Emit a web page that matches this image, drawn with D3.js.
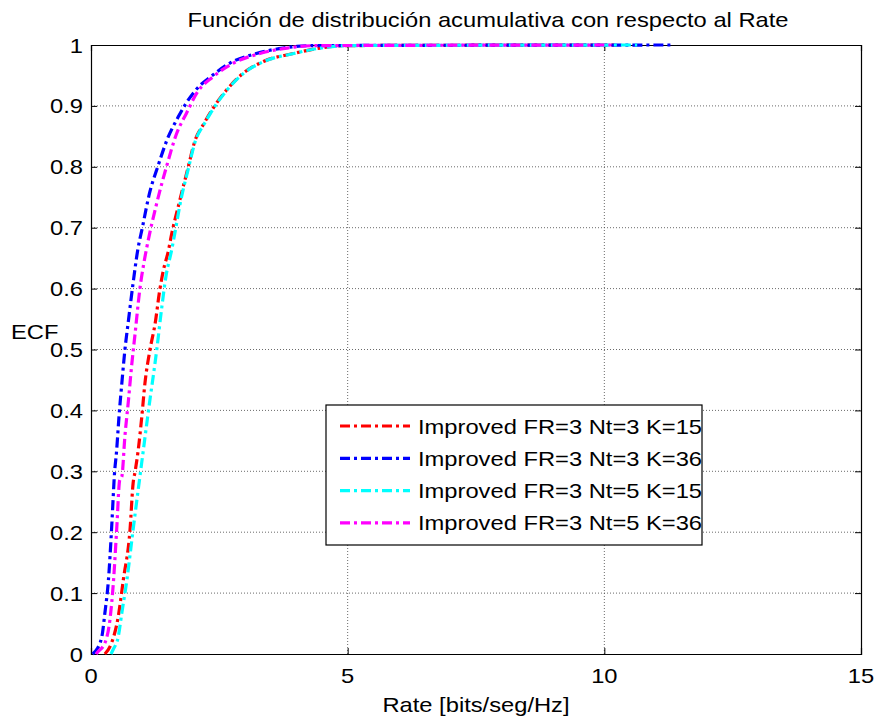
<!DOCTYPE html>
<html>
<head>
<meta charset="utf-8">
<script src="https://cdn.jsdelivr.net/npm/d3@7"></script>
<style>
  body { margin: 0; background: #fff; }
  svg { display: block; }
  text { font-family: "Liberation Sans", Arial, Helvetica, sans-serif; fill: #000; }
</style>
</head>
<body>
<svg id="chart" width="880" height="722"></svg>
<script>
// Empirical CDF samples (rate in bits/seg/Hz, cumulative probability)
const seriesNames = [
  "Improved FR=3 Nt=3 K=15",
  "Improved FR=3 Nt=3 K=36",
  "Improved FR=3 Nt=5 K=15",
  "Improved FR=3 Nt=5 K=36"
];
const seriesColors = ["#ff0000", "#0000ff", "#00ffff", "#ff00ff"];

const rateNt3K15 = [0.27, 0.40, 0.53, 0.63, 0.76, 0.82, 0.86, 0.92, 0.99, 1.05, 1.15, 1.25, 1.34, 1.41, 1.51, 1.56, 1.73, 1.88, 2.03, 2.20, 2.40, 2.64, 2.97, 3.36, 3.94, 4.46, 4.98, 10.25];
const ecfNt3K15  = [0.0, 0.018, 0.061, 0.122, 0.204, 0.28, 0.30, 0.335, 0.39, 0.444, 0.50, 0.543, 0.598, 0.63, 0.663, 0.685, 0.745, 0.795, 0.844, 0.871, 0.899, 0.926, 0.954, 0.973, 0.986, 0.995, 0.999, 1.0];

const rateNt3K36 = [0.03, 0.08, 0.21, 0.27, 0.34, 0.40, 0.44, 0.45, 0.50, 0.55, 0.60, 0.66, 0.73, 0.82, 0.91, 1.00, 1.15, 1.30, 1.48, 1.70, 1.85, 2.04, 2.38, 2.70, 3.22, 3.74, 4.33, 11.32];
const ecfNt3K36  = [0.0, 0.004, 0.028, 0.067, 0.122, 0.204, 0.27, 0.286, 0.335, 0.395, 0.444, 0.499, 0.548, 0.609, 0.663, 0.70, 0.76, 0.80, 0.844, 0.882, 0.904, 0.926, 0.951, 0.97, 0.986, 0.995, 0.999, 1.0];

const rateNt5K15 = [0.39, 0.43, 0.53, 0.60, 0.70, 0.82, 0.92, 1.02, 1.12, 1.28, 1.38, 1.46, 1.57, 1.62, 1.75, 1.89, 2.04, 2.21, 2.41, 2.65, 2.98, 3.37, 3.95, 4.47, 4.98, 10.64];
const ecfNt5K15  = [0.0, 0.007, 0.028, 0.067, 0.122, 0.204, 0.27, 0.335, 0.40, 0.499, 0.57, 0.62, 0.663, 0.685, 0.745, 0.795, 0.844, 0.871, 0.899, 0.926, 0.954, 0.973, 0.986, 0.995, 0.999, 1.0];

const rateNt5K36 = [0.10, 0.14, 0.27, 0.37, 0.44, 0.50, 0.56, 0.60, 0.66, 0.73, 0.79, 0.86, 0.95, 1.03, 1.09, 1.28, 1.47, 1.67, 1.86, 2.06, 2.38, 2.77, 3.29, 3.82, 4.40, 10.20];
const ecfNt5K36  = [0.0, 0.004, 0.018, 0.057, 0.122, 0.204, 0.286, 0.291, 0.357, 0.417, 0.472, 0.527, 0.598, 0.642, 0.669, 0.74, 0.80, 0.855, 0.888, 0.921, 0.948, 0.97, 0.986, 0.995, 0.999, 1.0];

const xTicks = [0, 5, 10, 15];
const yTicks = [0, 0.1, 0.2, 0.3, 0.4, 0.5, 0.6, 0.7, 0.8, 0.9, 1];
const yTickLabels = ["0", "0.1", "0.2", "0.3", "0.4", "0.5", "0.6", "0.7", "0.8", "0.9", "1"];

const titleText = "Función de distribución acumulativa con respecto al Rate";
const xLabelText = "Rate [bits/seg/Hz]";
const yLabelText = "ECF";

const series = [
  { name: seriesNames[0], color: seriesColors[0], x: rateNt3K15, y: ecfNt3K15 },
  { name: seriesNames[1], color: seriesColors[1], x: rateNt3K36, y: ecfNt3K36 },
  { name: seriesNames[2], color: seriesColors[2], x: rateNt5K15, y: ecfNt5K15 },
  { name: seriesNames[3], color: seriesColors[3], x: rateNt5K36, y: ecfNt5K36 }
];

const svg = d3.select("#chart");
const margin = { left: 91, right: 19, top: 45, bottom: 68 };
const W = 880, H = 722;
const x0 = margin.left, x1 = W - margin.right;
const y0 = H - margin.bottom, y1 = margin.top;

const x = d3.scaleLinear().domain([0, 15]).range([x0, x1]);
const y = d3.scaleLinear().domain([0, 1]).range([y0, y1]);

const fontSize = 21;
const stretch = 1.13;
// horizontally widened text, anchored at (px, py)
function label(g, px, py, txt, anchor, size) {
  const s = size || fontSize;
  return g.append("text")
    .attr("transform", `translate(${px},${py}) scale(${stretch},1)`)
    .attr("text-anchor", anchor)
    .attr("font-size", s)
    .text(txt);
}

// white plot background
svg.append("rect").attr("x", x0).attr("y", y1)
  .attr("width", x1 - x0).attr("height", y0 - y1).attr("fill", "#fff");

// dotted grid
const grid = svg.append("g").attr("stroke", "#444").attr("stroke-width", 0.8)
  .attr("stroke-dasharray", "1,2");
grid.selectAll("line.gx").data(xTicks.slice(1, -1)).join("line")
  .attr("x1", d => x(d)).attr("x2", d => x(d)).attr("y1", y0).attr("y2", y1);
grid.selectAll("line.gy").data(yTicks.slice(1, -1)).join("line")
  .attr("x1", x0).attr("x2", x1).attr("y1", d => y(d)).attr("y2", d => y(d));

// axes (ticks inward, also mirrored on top/right)
const tickLen = 6;
const axB = svg.append("g").attr("transform", `translate(0,${y0})`)
  .call(d3.axisBottom(x).tickValues(xTicks).tickSize(-tickLen).tickFormat(""));
const axT = svg.append("g").attr("transform", `translate(0,${y1})`)
  .call(d3.axisTop(x).tickValues(xTicks).tickSize(-tickLen).tickFormat(""));
const axL = svg.append("g").attr("transform", `translate(${x0},0)`)
  .call(d3.axisLeft(y).tickValues(yTicks).tickSize(-tickLen).tickFormat(""));
const axR = svg.append("g").attr("transform", `translate(${x1},0)`)
  .call(d3.axisRight(y).tickValues(yTicks).tickSize(-tickLen).tickFormat(""));
[axB, axT, axL, axR].forEach(a => {
  a.selectAll("path").attr("stroke", "#000").attr("stroke-width", 1.2);
  a.selectAll("line").attr("stroke", "#000");
});

// tick labels
const tl = svg.append("g");
xTicks.forEach(t => label(tl, x(t), y0 + 29, String(t), "middle"));
yTicks.forEach((t, i) => label(tl, x0 - 8, y(t) + 7.5, yTickLabels[i], "end"));

// curves
const line = d3.line().x(d => x(d[0])).y(d => y(d[1])).curve(d3.curveMonotoneX);
const curves = svg.append("g");
series.forEach(s => {
  const pts = s.x.map((v, i) => [v, s.y[i]]);
  curves.append("path")
    .attr("d", line(pts))
    .attr("fill", "none")
    .attr("stroke", s.color)
    .attr("stroke-width", 3.2)
    .attr("stroke-linejoin", "round")
    .attr("stroke-dasharray", "10,4,3,4");
});

// titles
label(svg, 488, 27, titleText, "middle");
label(svg, x((0 + 15) / 2), 712, xLabelText, "middle");
label(svg, 11, 339, yLabelText, "start");

// legend
const lg = svg.append("g");
const lgX = 326, lgY = 405, lgW = 376, lgH = 140;
lg.append("rect").attr("x", lgX).attr("y", lgY).attr("width", lgW).attr("height", lgH)
  .attr("fill", "#fff").attr("stroke", "#000").attr("stroke-width", 1.2);
series.forEach((s, i) => {
  const ry = lgY + 21 + i * 32.3;
  lg.append("line")
    .attr("x1", lgX + 14).attr("x2", lgX + 84).attr("y1", ry).attr("y2", ry)
    .attr("stroke", s.color).attr("stroke-width", 3.2)
    .attr("stroke-dasharray", "10,4,3,4");
  label(lg, lgX + 92, ry + 7.5, s.name, "start");
});
</script>
</body>
</html>
